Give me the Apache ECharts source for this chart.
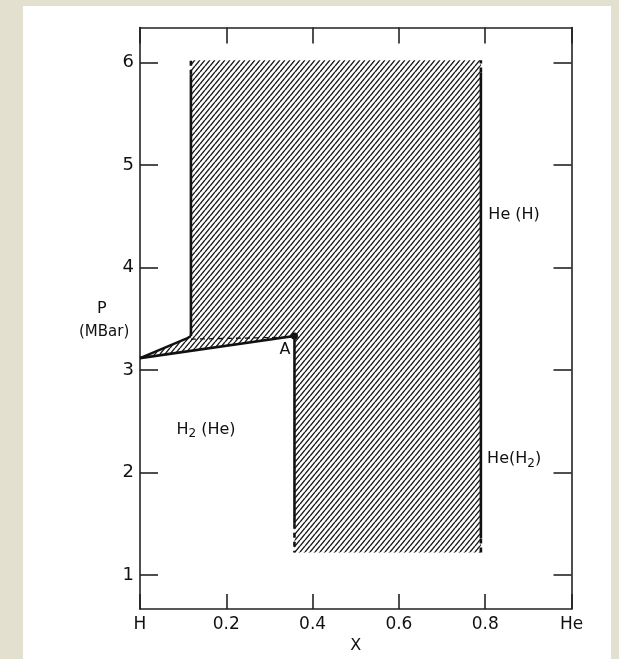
<!DOCTYPE html>
<html>
<head>
<meta charset="utf-8">
<script src="https://cdn.jsdelivr.net/npm/echarts@6/dist/echarts.min.js"></script>
<style>
  html, body { margin: 0; padding: 0; background: #e4e0cf; }
  #chart { width: 619px; height: 659px; }
</style>
</head>
<body>
<div id="chart"></div>
<script>
// Axis ticks and labels
const xTicks = [0, 0.2, 0.4, 0.6, 0.8, 1];
const xTickLabels = ['H', '0.2', '0.4', '0.6', '0.8', 'He'];
const yTicks = [1, 2, 3, 4, 5, 6];

// Two-phase (hatched) region, [x, P in MBar]
const hatchRegion = [[0.118, 6.02], [0.79, 6.02], [0.79, 1.22], [0.358, 1.22],
                     [0.358, 3.33], [0, 3.115], [0.11, 3.31], [0.118, 3.33]];

// Phase boundaries
const leftUpperSolid = [[0.118, 3.33], [0.118, 5.88]];
const leftUpperDash = [[0.118, 5.88], [0.118, 6.02]];
const rightSolid = [[0.79, 1.36], [0.79, 5.9]];
const rightDashTop = [[0.79, 5.9], [0.79, 6.02]];
const rightDashBottom = [[0.79, 1.22], [0.79, 1.36]];
const lowerSolid = [[0.358, 3.33], [0.358, 1.5]];
const lowerDash = [[0.358, 1.5], [0.358, 1.22]];
const slantUpper = [[0, 3.115], [0.11, 3.31], [0.118, 3.33]];
const slantLower = [[0, 3.115], [0.358, 3.33]];
const tieLine = [[0.118, 3.30], [0.358, 3.32]];
const pointA = [[0.358, 3.33]];

// Region names and where they sit
const regionNames = ['{n|H}{s|2}{n| (He)}', '{n|He (H)}', '{n|He(H}{s|2}{n|)}', '{n|A}'];
const regionAnchors = [[0.153, 2.42], [0.867, 4.51], [0.867, 2.13], [0.336, 3.2]];

const FONT = 'DejaVu Sans';
const INK = '#111';

function hatchCanvas() {
  const w = 5, h = 6;
  const c = document.createElement('canvas');
  c.width = w; c.height = h;
  const g = c.getContext('2d');
  g.strokeStyle = '#1a1a1a';
  g.lineWidth = 1.4;
  g.beginPath();
  for (const dx of [-w, 0, w]) { g.moveTo(dx, h); g.lineTo(dx + w, 0); }
  g.stroke();
  return c;
}
const pattern = hatchCanvas();

function boundary(data, width, dashed) {
  return {
    type: 'line', data: data, showSymbol: false, silent: true, z: 4,
    lineStyle: { color: INK, width: width, type: dashed ? [5, 4] : 'solid', cap: 'butt' }
  };
}

const chart = echarts.init(document.getElementById('chart'), null, { renderer: 'canvas' });

const axisLineStyle = { color: '#222', width: 1.6 };

chart.setOption({
  animation: false,
  backgroundColor: 'transparent',
  textStyle: { fontFamily: FONT },
  graphic: [
    { type: 'rect', shape: { x: 23, y: 6, width: 588, height: 660 }, style: { fill: '#fff' }, z: -10 },
    { type: 'text', left: 97, top: 301, style: { text: 'P', font: '16px "DejaVu Sans"', fill: INK } },
    { type: 'text', left: 79, top: 325, style: { text: '(MBar)', font: '15px "DejaVu Sans"', fill: INK } }
  ],
  grid: { left: 140, right: 47.5, top: 27.5, bottom: 46.3 },
  xAxis: [
    {
      type: 'value', min: 0, max: 1, interval: 0.2, position: 'bottom',
      axisLine: { show: true, onZero: false, lineStyle: axisLineStyle },
      axisTick: { show: true, inside: true, length: 15, lineStyle: axisLineStyle },
      axisLabel: {
        show: true, margin: 7, fontSize: 17, color: INK, fontFamily: FONT,
        showMinLabel: true, showMaxLabel: true,
        formatter: v => xTickLabels[Math.round(v * 5)]
      },
      splitLine: { show: false },
      name: 'X', nameLocation: 'middle', nameGap: 27,
      nameTextStyle: { fontSize: 16, color: INK, fontFamily: FONT }
    },
    {
      type: 'value', min: 0, max: 1, interval: 0.2, position: 'top',
      axisLine: { show: true, onZero: false, lineStyle: axisLineStyle },
      axisTick: { show: true, inside: true, length: 16, lineStyle: axisLineStyle },
      axisLabel: { show: false },
      splitLine: { show: false }
    }
  ],
  yAxis: [
    {
      type: 'value', min: 2 / 3, max: 6.34, position: 'left',
      axisLine: { show: true, onZero: false, lineStyle: axisLineStyle },
      axisTick: { show: true, inside: true, length: 18, lineStyle: axisLineStyle, customValues: yTicks },
      axisLabel: { show: true, margin: 6, fontSize: 18, color: INK, fontFamily: FONT, customValues: yTicks },
      splitLine: { show: false }
    },
    {
      type: 'value', min: 2 / 3, max: 6.34, position: 'right',
      axisLine: { show: true, onZero: false, lineStyle: axisLineStyle },
      axisTick: { show: true, inside: true, length: 18, lineStyle: axisLineStyle, customValues: yTicks },
      axisLabel: { show: false },
      splitLine: { show: false }
    }
  ],
  series: [
    {
      type: 'custom', silent: true, z: 1, clip: true,
      data: [[0.5, 3]],
      renderItem: (params, api) => ({
        type: 'polygon',
        shape: { points: hatchRegion.map(p => api.coord(p)) },
        style: { fill: { image: pattern, repeat: 'repeat' }, stroke: null }
      })
    },
    boundary(leftUpperSolid, 2.6, false),
    boundary(leftUpperDash, 2.6, true),
    boundary(rightSolid, 2.6, false),
    boundary(rightDashTop, 2.6, true),
    boundary(rightDashBottom, 2.6, true),
    boundary(lowerSolid, 2.6, false),
    boundary(lowerDash, 2.6, true),
    boundary(slantUpper, 2.4, false),
    boundary(slantLower, 2.6, false),
    boundary(tieLine, 1.3, true),
    {
      type: 'scatter', data: pointA, symbol: 'circle', symbolSize: 7, silent: true, z: 5,
      itemStyle: { color: INK, opacity: 1 }
    },
    {
      type: 'scatter', silent: true, z: 6, symbolSize: 1,
      itemStyle: { color: 'rgba(0,0,0,0)', opacity: 1 },
      data: regionAnchors.map((p, i) => ({ value: p, name: regionNames[i] })),
      label: {
        show: true, position: 'inside', color: INK,
        formatter: p => p.name,
        rich: {
          n: { fontSize: 16, fontFamily: FONT, color: INK },
          s: { fontSize: 12, fontFamily: FONT, color: INK, padding: [9, 0, 0, 0] }
        }
      }
    }
  ]
});
</script>
</body>
</html>
